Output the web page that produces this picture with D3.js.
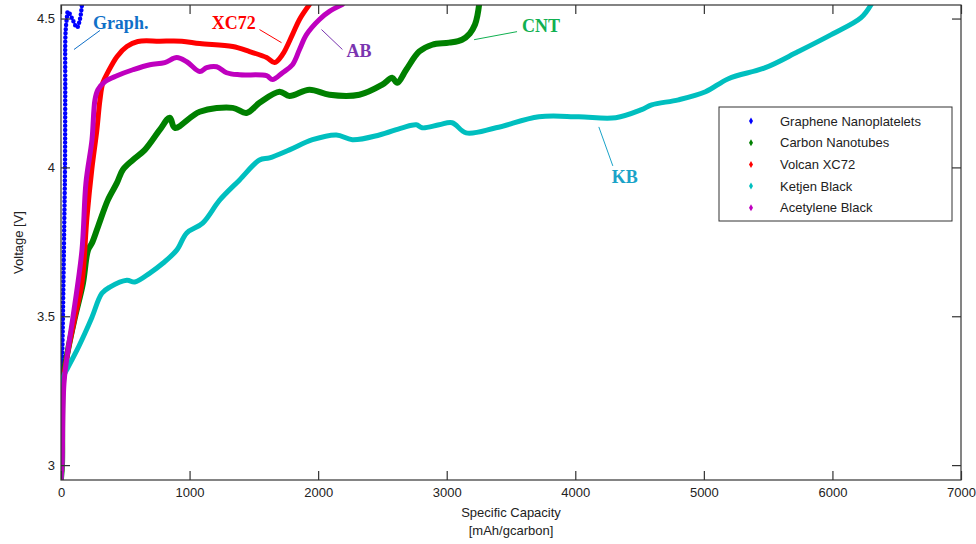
<!DOCTYPE html>
<html><head><meta charset="utf-8">
<script src="https://cdn.jsdelivr.net/npm/d3@7"></script>
<style>body{margin:0;background:#fff}svg{display:block}</style>
</head><body>
<svg id="chart" width="976" height="544"></svg>
<script>
// ---- data (capacity mAh/gcarbon, voltage V) ----
const seriesNames = ["Graphene Nanoplatelets","Carbon Nanotubes","Volcan XC72","Ketjen Black","Acetylene Black"];
const seriesColors = ["#0000ff","#008000","#ff0000","#00bfbf","#bf00bf"];
const graphene = [[0,2.955],[5,3.0],[8,3.3],[15,3.5],[25,3.8],[31,4.0],[33,4.25],[35,4.45],[45,4.5],[54,4.524],[90,4.497],[124,4.47],[147,4.497],[163,4.547]];
const cnt = [[0,2.955],[8,3.005],[16,3.285],[54,3.386],[109,3.497],[171,3.611],[210,3.722],[241,3.746],[287,3.8],[365,3.891],[435,3.948],[481,3.992],[559,4.025],[652,4.059],[768,4.126],[846,4.167],[885,4.133],[1079,4.187],[1335,4.2],[1443,4.183],[1544,4.217],[1700,4.254],[1777,4.24],[1932,4.261],[2088,4.244],[2320,4.244],[2499,4.278],[2576,4.301],[2615,4.284],[2685,4.328],[2786,4.389],[2887,4.412],[3019,4.419],[3119,4.429],[3180,4.45],[3220,4.48],[3240,4.513],[3252,4.547]];
const xc72 = [[0,2.955],[8,3.005],[16,3.275],[109,3.497],[163,3.611],[202,3.833],[240,3.995],[279,4.126],[303,4.227],[326,4.285],[365,4.32],[435,4.372],[512,4.406],[598,4.423],[768,4.424],[939,4.424],[1079,4.416],[1335,4.406],[1467,4.389],[1599,4.369],[1661,4.352],[1723,4.379],[1800,4.446],[1855,4.497],[1932,4.547]];
const kb = [[0,2.955],[8,3.005],[10,3.285],[54,3.328],[124,3.386],[186,3.443],[241,3.497],[318,3.577],[380,3.598],[512,3.621],[574,3.615],[691,3.645],[792,3.678],[900,3.722],[978,3.78],[1102,3.813],[1234,3.89],[1389,3.958],[1544,4.025],[1622,4.032],[1777,4.059],[1956,4.093],[2142,4.109],[2266,4.093],[2476,4.109],[2654,4.133],[2763,4.143],[2809,4.133],[2941,4.143],[3042,4.15],[3151,4.116],[3383,4.133],[3717,4.17],[4027,4.17],[4314,4.167],[4516,4.194],[4594,4.21],[4803,4.227],[5013,4.254],[5191,4.298],[5478,4.335],[5734,4.389],[5991,4.446],[6223,4.503],[6301,4.547]];
const ab = [[0,2.955],[8,3.005],[23,3.274],[54,3.386],[93,3.497],[163,3.722],[194,3.948],[241,4.093],[264,4.227],[287,4.261],[341,4.288],[435,4.308],[559,4.328],[691,4.345],[807,4.352],[900,4.369],[978,4.355],[1079,4.322],[1133,4.335],[1211,4.338],[1288,4.318],[1389,4.311],[1599,4.308],[1645,4.295],[1723,4.318],[1800,4.345],[1855,4.396],[1909,4.446],[2010,4.497],[2088,4.524],[2188,4.547]];
const xTicks = [0,1000,2000,3000,4000,5000,6000,7000];
const yTicks = [3,3.5,4,4.5];
// annotations: label, text anchor point, leader line from/to (data units)
const annLabels = ["Graph.","XC72","AB","CNT","KB"];
const annColors = ["#1070c8","#ff0000","#7a35b0","#10b050","#1aa3c8"];
const annText = [[248,4.466],[1172,4.466],[2220,4.372],[3586,4.456],[4284,3.948]];
const annLine = [[[101,4.396],[303,4.46]],[[1544,4.463],[1715,4.419]],[[2026,4.463],[2189,4.396]],[[3213,4.429],[3547,4.456]],[[4183,4.136],[4292,4.005]]];

const seriesData = [graphene, cnt, xc72, kb, ab];

const svg = d3.select("#chart");
const L=61, R=961, T=5, B=480;
const x = d3.scaleLinear().domain([0,7000]).range([L,R]);
const y = d3.scaleLinear().domain([2.95,4.5455]).range([B,T]);

svg.append("defs").append("clipPath").attr("id","clip")
  .append("rect").attr("x",L).attr("y",T).attr("width",R-L).attr("height",B-T);

const line = d3.line().x(d=>x(d[0])).y(d=>y(d[1])).curve(d3.curveCatmullRom.alpha(0.5));
const g = svg.append("g").attr("clip-path","url(#clip)");
seriesData.forEach((data,i)=>{
  const p = g.append("path").datum(data).attr("d",line)
    .attr("fill","none").attr("stroke",seriesColors[i])
    .attr("stroke-linejoin","round").attr("stroke-linecap","round");
  if(i===0){ p.attr("stroke-width",4.5).attr("stroke-dasharray","0,4.2"); }
  else { p.attr("stroke-width", i===1?6:5); }
});

// axes box
const font = "'Liberation Sans', Arial, sans-serif";
svg.append("rect").attr("x",L).attr("y",T).attr("width",R-L).attr("height",B-T)
  .attr("fill","none").attr("stroke","#333").attr("stroke-width",1.2);
const TL = 9;
const axB = svg.append("g").attr("transform",`translate(0,${B})`)
  .call(d3.axisBottom(x).tickValues(xTicks).tickFormat(d3.format("d")).tickSizeInner(-TL).tickSizeOuter(0).tickPadding(8));
const axT = svg.append("g").attr("transform",`translate(0,${T})`)
  .call(d3.axisTop(x).tickValues(xTicks).tickFormat("").tickSizeInner(-TL).tickSizeOuter(0));
const axL = svg.append("g").attr("transform",`translate(${L},0)`)
  .call(d3.axisLeft(y).tickValues(yTicks).tickFormat(d3.format("")).tickSizeInner(-TL).tickSizeOuter(0).tickPadding(6));
const axR = svg.append("g").attr("transform",`translate(${R},0)`)
  .call(d3.axisRight(y).tickValues(yTicks).tickFormat("").tickSizeInner(-TL).tickSizeOuter(0));
[axB,axT,axL,axR].forEach(a=>{
  a.select(".domain").remove();
  a.selectAll("line").attr("stroke","#333").attr("stroke-width",1.2);
  a.selectAll("text").attr("font-family",font).attr("font-size",13).attr("fill","#222");
});

// axis labels
svg.append("text").attr("x",(L+R)/2).attr("y",517).attr("text-anchor","middle")
  .attr("font-family",font).attr("font-size",13).attr("fill","#222").text("Specific Capacity");
svg.append("text").attr("x",(L+R)/2).attr("y",535).attr("text-anchor","middle")
  .attr("font-family",font).attr("font-size",13).attr("fill","#222").text("[mAh/gcarbon]");
svg.append("text").attr("transform",`translate(23,${(T+B)/2}) rotate(-90)`).attr("text-anchor","middle")
  .attr("font-family",font).attr("font-size",13).attr("fill","#222").text("Voltage [V]");

// annotations
annLabels.forEach((t,i)=>{
  svg.append("line").attr("x1",x(annLine[i][0][0])).attr("y1",y(annLine[i][0][1]))
    .attr("x2",x(annLine[i][1][0])).attr("y2",y(annLine[i][1][1]))
    .attr("stroke",annColors[i]).attr("stroke-width",1);
  svg.append("text").attr("x",x(annText[i][0])).attr("y",y(annText[i][1]))
    .attr("font-family","'Liberation Serif','Times New Roman',serif").attr("font-weight","bold")
    .attr("font-size",18).attr("fill",annColors[i]).text(t);
});

// legend
const lg = svg.append("g");
lg.append("rect").attr("x",719).attr("y",107).attr("width",233).attr("height",114)
  .attr("fill","#fff").attr("stroke","#333").attr("stroke-width",1);
seriesNames.forEach((n,i)=>{
  const yy = 121 + i*21.7;
  lg.append("path").attr("d",d3.symbol().type(d3.symbolDiamond).size(14)())
    .attr("transform",`translate(751,${yy})`).attr("fill",seriesColors[i]);
  lg.append("text").attr("x",780).attr("y",yy+4.5).attr("font-family",font)
    .attr("font-size",13).attr("fill","#222").text(n);
});
</script>
</body></html>
